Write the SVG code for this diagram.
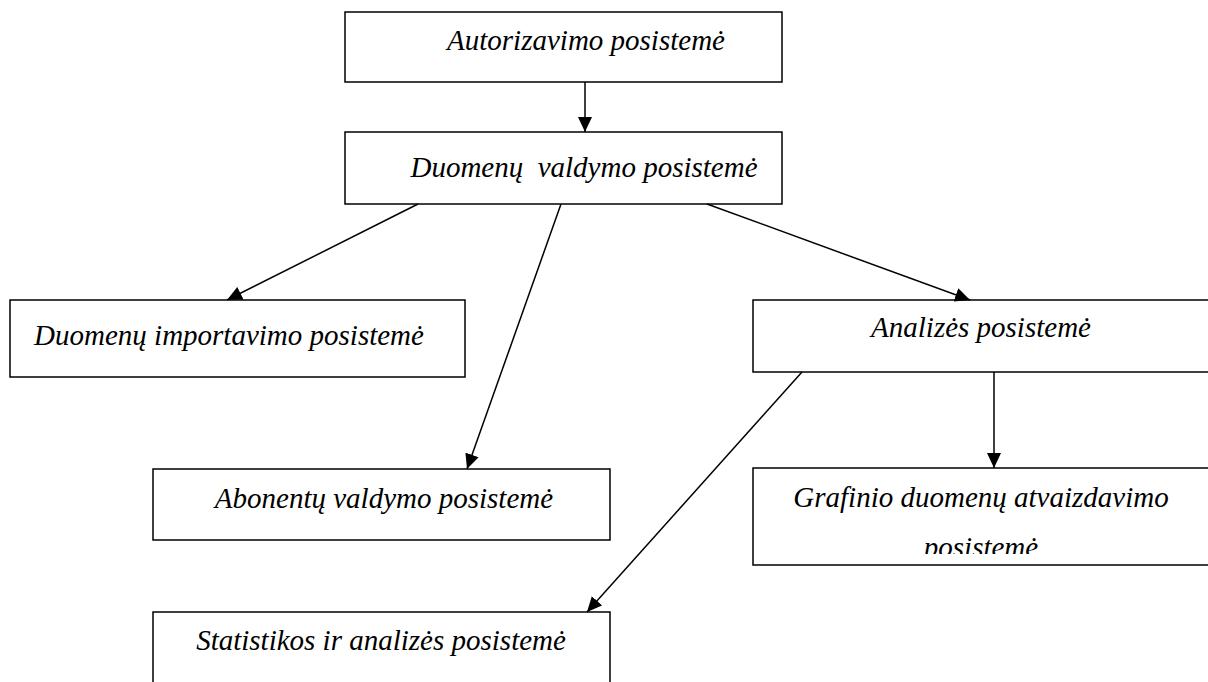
<svg xmlns="http://www.w3.org/2000/svg" width="1208" height="682" viewBox="0 0 1208 682">
  <style>
    .box { fill: #ffffff; stroke: #000000; stroke-width: 1.5; }
    .lbl { font-family: 'Liberation Serif', serif; font-style: italic; font-size: 29px; fill: #000000; text-anchor: middle; white-space: pre; }
    .edge { stroke: #000000; stroke-width: 1.5; fill: none; marker-end: url(#arrow); }
  </style>
  <defs>
    <marker id="arrow" viewBox="0 0 15 14" refX="15" refY="7" markerWidth="15" markerHeight="14" markerUnits="userSpaceOnUse" orient="auto">
      <path d="M0,0 L15,7 L0,14 z" fill="#000000"/>
    </marker>
    <clipPath id="grafClip">
      <rect x="753" y="468" width="460" height="86"/>
    </clipPath>
  </defs>
  <rect width="1208" height="682" fill="#ffffff"/>

  <g id="autorizavimo">
    <rect class="box" x="345" y="12" width="437" height="70"/>
    <text class="lbl" x="586" y="50" font-family="Liberation Serif, serif">Autorizavimo posistemė</text>
  </g>

  <g id="duomenu-valdymo">
    <rect class="box" x="345" y="132" width="437" height="72"/>
    <text class="lbl" x="584" y="177" font-family="Liberation Serif, serif">Duomenų  valdymo posistemė</text>
  </g>

  <g id="duomenu-importavimo">
    <rect class="box" x="10" y="300" width="455" height="77"/>
    <text class="lbl" x="229" y="345" font-family="Liberation Serif, serif">Duomenų importavimo posistemė</text>
  </g>

  <g id="analizes">
    <rect class="box" x="753" y="300" width="462" height="72"/>
    <text class="lbl" x="981" y="337" font-family="Liberation Serif, serif">Analizės posistemė</text>
  </g>

  <g id="abonentu-valdymo">
    <rect class="box" x="153" y="469" width="457" height="71"/>
    <text class="lbl" x="384" y="508" font-family="Liberation Serif, serif">Abonentų valdymo posistemė</text>
  </g>

  <g id="grafinio-atvaizdavimo">
    <rect class="box" x="753" y="468" width="462" height="97"/>
    <g clip-path="url(#grafClip)">
      <text class="lbl" x="981" y="507" font-family="Liberation Serif, serif">Grafinio duomenų atvaizdavimo</text>
      <text class="lbl" x="981" y="557" font-family="Liberation Serif, serif">posistemė</text>
    </g>
  </g>

  <g id="statistikos-analizes">
    <rect class="box" x="153" y="612" width="457" height="80"/>
    <text class="lbl" x="381" y="650" font-family="Liberation Serif, serif">Statistikos ir analizės posistemė</text>
  </g>

  <g id="connectors">
    <line class="edge" x1="585" y1="82" x2="585" y2="132"/>
    <line class="edge" x1="418" y1="204" x2="227" y2="300"/>
    <line class="edge" x1="561" y1="204" x2="467" y2="469"/>
    <line class="edge" x1="707" y1="204" x2="970" y2="300"/>
    <line class="edge" x1="994" y1="372" x2="994" y2="468"/>
    <line class="edge" x1="802" y1="372" x2="587" y2="612"/>
  </g>
</svg>
